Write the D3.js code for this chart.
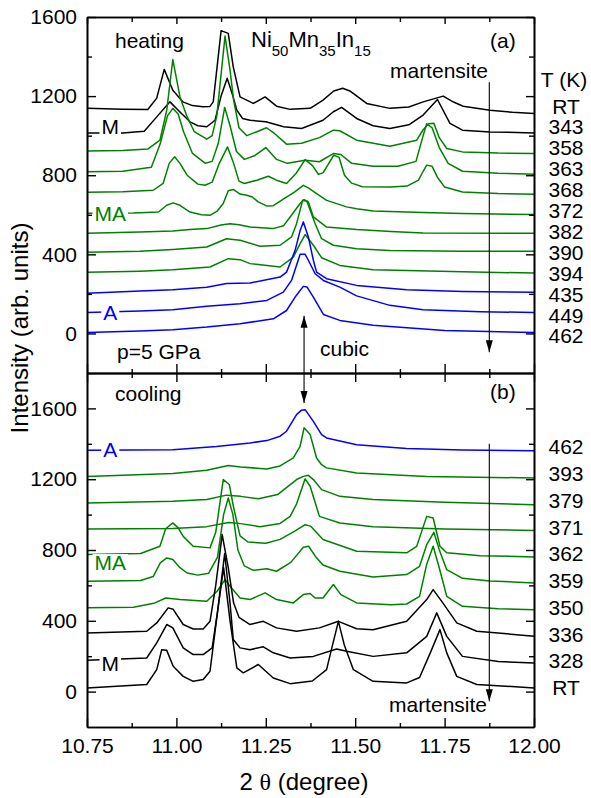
<!DOCTYPE html>
<html>
<head>
<meta charset="utf-8">
<script src="https://cdn.jsdelivr.net/npm/d3@7"></script>
<style>
body { margin: 0; background: #fff; }
svg text { font-family: "Liberation Sans", Arial, sans-serif; }
</style>
</head>
<body>
<div id="chart"></div>
<script>
// axis ticks
var xTickValues = [10.75, 11.00, 11.25, 11.50, 11.75, 12.00];
var xMinorValues = [10.875, 11.125, 11.375, 11.625, 11.875];
var yTickValues = [0, 400, 800, 1200, 1600];
var yMinorValues = [200, 600, 1000, 1400];

// temperatures (labels on the right) and phase of each pattern
var heatingTemps = ["RT", "343", "358", "363", "368", "372", "382", "390", "394", "435", "449", "462"];
var heatingPhases = ["M", "M", "MA", "MA", "MA", "MA", "MA", "MA", "MA", "A", "A", "A"];
var coolingTemps = ["462", "393", "379", "371", "362", "359", "350", "336", "328", "RT"];
var coolingPhases = ["A", "MA", "MA", "MA", "MA", "MA", "MA", "M", "M", "M"];

// (a) heating: [2theta, intensity]
var heatRT = [[10.75,1139],[10.85,1134],[10.92,1132],[10.945,1190],[10.966,1335],[10.99,1230],[11.018,1171],[11.045,1152],[11.074,1146],[11.094,1148],[11.103,1171],[11.125,1531],[11.145,1517],[11.159,1348],[11.178,1196],[11.215,1163],[11.248,1196],[11.28,1149],[11.318,1133],[11.374,1138],[11.41,1180],[11.44,1226],[11.465,1240],[11.485,1226],[11.532,1163],[11.597,1138],[11.65,1145],[11.69,1171],[11.746,1200],[11.775,1170],[11.802,1149],[11.877,1129],[11.94,1118],[12.0,1112]];
var heat343 = [[10.75,1014],[10.85,1014],[10.91,1022],[10.945,1095],[10.982,1171],[11.01,1120],[11.038,1070],[11.06,1050],[11.085,1045],[11.108,1078],[11.125,1200],[11.142,1290],[11.158,1200],[11.169,1129],[11.185,1087],[11.206,1078],[11.25,1070],[11.30,1045],[11.35,1036],[11.41,1078],[11.439,1121],[11.462,1143],[11.504,1087],[11.55,1050],[11.597,1036],[11.65,1055],[11.69,1104],[11.73,1183],[11.765,1062],[11.80,1028],[11.877,1019],[12.0,1014]];
var heat358 = [[10.75,923],[10.85,925],[10.92,932],[10.954,977],[10.973,1129],[10.99,1385],[11.01,1196],[11.029,1100],[11.05,1020],[11.085,982],[11.10,1000],[11.113,1100],[11.136,1504],[11.15,1331],[11.16,1180],[11.175,1040],[11.197,1000],[11.225,1020],[11.252,1040],[11.275,1010],[11.308,957],[11.35,962],[11.40,990],[11.439,1028],[11.457,1025],[11.504,977],[11.597,947],[11.672,977],[11.69,1030],[11.705,1060],[11.72,1063],[11.735,990],[11.756,935],[11.80,918],[11.9,912],[12.0,910]];
var heat363 = [[10.75,817],[10.85,820],[10.93,840],[10.955,960],[10.975,1100],[10.99,1138],[11.005,1110],[11.02,1020],[11.045,910],[11.08,861],[11.10,870],[11.117,960],[11.135,1143],[11.15,1050],[11.168,920],[11.19,880],[11.22,900],[11.25,940],[11.28,880],[11.31,860],[11.36,876],[11.40,868],[11.44,910],[11.46,905],[11.49,860],[11.55,845],[11.62,845],[11.67,870],[11.69,1000],[11.70,1060],[11.715,1040],[11.735,940],[11.76,860],[11.80,820],[11.9,810],[12.0,805]];
var heat368 = [[10.75,714],[10.85,716],[10.935,724],[10.963,759],[10.98,860],[10.995,893],[11.01,860],[11.03,800],[11.06,755],[11.08,749],[11.10,765],[11.12,860],[11.143,943],[11.16,860],[11.175,770],[11.19,758],[11.225,775],[11.257,795],[11.28,775],[11.308,758],[11.335,810],[11.36,879],[11.38,850],[11.397,805],[11.41,812],[11.44,901],[11.455,890],[11.47,800],[11.49,760],[11.52,742],[11.6,740],[11.645,745],[11.677,775],[11.69,820],[11.70,851],[11.715,845],[11.73,790],[11.75,740],[11.80,715],[11.9,707],[12.0,704]];
var heat372 = [[10.75,608],[10.88,609],[10.95,614],[10.973,648],[10.991,660],[11.01,648],[11.038,614],[11.07,600],[11.094,597],[11.115,620],[11.131,657],[11.145,722],[11.159,728],[11.178,705],[11.197,699],[11.212,690],[11.229,665],[11.252,645],[11.271,646],[11.30,680],[11.33,715],[11.355,749],[11.37,735],[11.392,707],[11.42,673],[11.476,640],[11.504,631],[11.55,619],[11.69,612],[11.8,607],[12.0,601]];
var heat382 = [[10.75,506],[10.898,513],[10.99,518],[11.038,525],[11.085,530],[11.125,548],[11.15,555],[11.175,550],[11.206,538],[11.27,530],[11.30,545],[11.318,589],[11.346,657],[11.357,677],[11.369,665],[11.383,589],[11.42,538],[11.504,525],[11.6,515],[11.69,508],[12.0,506]];
var heat390 = [[10.75,410],[10.898,415],[10.99,425],[11.085,437],[11.14,479],[11.178,471],[11.234,441],[11.29,446],[11.322,488],[11.336,555],[11.353,673],[11.365,668],[11.388,555],[11.406,479],[11.439,446],[11.504,428],[11.597,420],[11.8,416],[12.0,415]];
var heat394 = [[10.75,309],[10.898,315],[10.99,322],[11.094,336],[11.145,378],[11.178,373],[11.206,353],[11.29,336],[11.327,386],[11.346,454],[11.36,500],[11.383,446],[11.406,383],[11.457,344],[11.55,322],[11.8,312],[12.0,305]];
var heat435 = [[10.75,203],[10.898,214],[10.99,221],[11.085,234],[11.14,252],[11.206,255],[11.29,285],[11.308,310],[11.332,420],[11.346,520],[11.355,564],[11.369,488],[11.383,370],[11.392,310],[11.42,277],[11.504,243],[11.644,221],[11.8,212],[12.0,208]];
var heat449 = [[10.75,106],[10.898,113],[10.99,120],[11.085,137],[11.178,150],[11.253,167],[11.299,209],[11.322,268],[11.346,400],[11.36,400],[11.369,370],[11.388,302],[11.411,268],[11.457,234],[11.504,190],[11.597,142],[11.69,120],[11.85,110],[12.0,106]];
var heat462 = [[10.75,5],[10.898,12],[10.99,19],[11.085,32],[11.178,49],[11.271,74],[11.308,116],[11.332,184],[11.355,238],[11.365,235],[11.383,184],[11.411,96],[11.457,66],[11.55,41],[11.75,15],[12.0,5]];

// (b) cooling: [2theta, intensity]
var cool462 = [[10.75,1363],[10.99,1367],[11.112,1385],[11.206,1405],[11.253,1418],[11.29,1443],[11.308,1471],[11.336,1565],[11.35,1590],[11.36,1593],[11.383,1527],[11.406,1452],[11.42,1433],[11.504,1395],[11.644,1373],[11.8,1365],[12.0,1361]];
var cool393 = [[10.75,1215],[10.99,1232],[11.085,1250],[11.145,1277],[11.18,1269],[11.253,1258],[11.29,1275],[11.327,1320],[11.346,1386],[11.357,1490],[11.374,1452],[11.392,1320],[11.406,1282],[11.42,1264],[11.504,1235],[11.7,1215],[12.0,1207]];
var cool379 = [[10.75,1066],[10.99,1075],[11.085,1085],[11.14,1110],[11.18,1103],[11.23,1089],[11.283,1113],[11.336,1198],[11.355,1216],[11.369,1222],[11.383,1198],[11.406,1141],[11.457,1103],[11.55,1085],[11.75,1070],[12.0,1056]];
var cool371 = [[10.75,919],[10.99,921],[11.085,932],[11.145,955],[11.18,949],[11.234,932],[11.29,950],[11.318,990],[11.336,1060],[11.36,1202],[11.374,1160],[11.40,990],[11.457,953],[11.55,932],[11.75,919],[12.0,910]];
var cool362 = [[10.75,774],[10.9,780],[10.954,821],[10.97,920],[10.99,953],[11.005,925],[11.019,877],[11.047,821],[11.094,812],[11.11,900],[11.131,1198],[11.148,1170],[11.16,1040],[11.178,880],[11.2,845],[11.25,838],[11.29,860],[11.33,905],[11.36,943],[11.375,935],[11.41,859],[11.504,793],[11.644,784],[11.672,821],[11.70,990],[11.718,981],[11.737,821],[11.756,784],[11.85,768],[12.0,761]];
var cool359 = [[10.75,623],[10.9,628],[10.935,650],[10.955,727],[10.973,755],[10.99,746],[11.01,700],[11.03,670],[11.06,658],[11.09,668],[11.115,760],[11.132,1000],[11.145,1094],[11.158,1000],[11.172,800],[11.19,710],[11.215,685],[11.253,694],[11.28,680],[11.32,730],[11.355,815],[11.37,821],[11.39,760],[11.41,715],[11.457,680],[11.55,648],[11.644,661],[11.68,708],[11.70,830],[11.72,900],[11.735,802],[11.756,689],[11.8,640],[11.877,625],[12.0,614]];
var cool350 = [[10.75,474],[10.88,476],[10.94,501],[10.97,529],[11.01,520],[11.085,510],[11.115,570],[11.136,633],[11.15,595],[11.178,529],[11.206,520],[11.248,558],[11.28,520],[11.327,501],[11.355,548],[11.374,554],[11.388,529],[11.41,529],[11.439,605],[11.46,548],[11.504,501],[11.6,490],[11.644,495],[11.68,538],[11.70,720],[11.718,821],[11.735,700],[11.756,538],[11.80,482],[11.9,468],[12.0,463]];
var cool336 = [[10.75,331],[10.917,341],[10.945,388],[10.977,473],[10.991,465],[11.019,379],[11.047,354],[11.075,354],[11.094,397],[11.11,600],[11.128,887],[11.145,700],[11.16,500],[11.175,420],[11.206,379],[11.243,397],[11.28,360],[11.336,341],[11.40,360],[11.453,397],[11.504,355],[11.55,350],[11.644,397],[11.70,520],[11.718,576],[11.745,501],[11.784,388],[11.84,341],[12.0,313]];
var cool328 = [[10.75,177],[10.917,190],[10.945,275],[10.973,379],[10.99,360],[11.019,247],[11.047,209],[11.075,209],[11.1,247],[11.115,450],[11.135,780],[11.15,500],[11.159,294],[11.178,247],[11.206,237],[11.243,253],[11.271,219],[11.318,190],[11.383,199],[11.448,241],[11.476,228],[11.55,199],[11.644,219],[11.70,312],[11.728,445],[11.756,312],[11.80,199],[11.9,170],[12.0,162]];
var coolRT = [[10.75,21],[10.917,40],[10.945,124],[10.959,237],[10.973,233],[10.991,143],[11.019,86],[11.047,58],[11.075,68],[11.094,115],[11.115,450],[11.132,700],[11.15,400],[11.169,134],[11.187,106],[11.229,153],[11.271,77],[11.318,45],[11.38,60],[11.42,124],[11.435,250],[11.453,397],[11.47,260],[11.495,124],[11.55,58],[11.644,49],[11.68,80],[11.71,219],[11.737,350],[11.756,219],[11.784,86],[11.84,40],[12.0,21]];

var heatingCurves = [heatRT, heat343, heat358, heat363, heat368, heat372, heat382, heat390, heat394, heat435, heat449, heat462];
var coolingCurves = [cool462, cool393, cool379, cool371, cool362, cool359, cool350, cool336, cool328, coolRT];

// annotation positions (data units)
var cubicX = 11.357;
var martX = 11.875;

var phaseColor = {M: "#000000", MA: "#008000", A: "#0000ff"};

var width = 591, height = 798;
var svg = d3.select("#chart").append("svg")
    .attr("width", width)
    .attr("height", height);

var x = d3.scaleLinear().domain([10.75, 12.0]).range([87, 534]);
var yA = d3.scaleLinear().domain([-200, 1600]).range([373, 17]);
var yB = d3.scaleLinear().domain([-200, 1800]).range([727, 373]);

function styleAxis(g) {
    g.attr("font-size", 21).attr("font-family", "Liberation Sans, Arial, sans-serif");
    g.select(".domain").attr("stroke-width", 1.6);
    g.selectAll(".tick line").attr("stroke-width", 1.4);
    g.selectAll(".tick text").attr("fill", "#000");
}

function drawFrame(y, top, bottom, topMajor, bottomLabels) {
    // left
    svg.append("g").attr("transform", "translate(87,0)")
        .call(d3.axisLeft(y).tickValues(yTickValues).tickSize(-9).tickSizeOuter(0).tickPadding(10).tickFormat(d3.format("d")))
        .call(styleAxis);
    svg.append("g").attr("transform", "translate(87,0)")
        .call(d3.axisLeft(y).tickValues(yMinorValues).tickSize(-5).tickSizeOuter(0).tickFormat(""))
        .call(styleAxis);
    // right
    svg.append("g").attr("transform", "translate(534,0)")
        .call(d3.axisRight(y).tickValues(yTickValues).tickSize(-8).tickSizeOuter(0).tickFormat(""))
        .call(styleAxis);
    svg.append("g").attr("transform", "translate(534,0)")
        .call(d3.axisRight(y).tickValues(yMinorValues).tickSize(-5).tickSizeOuter(0).tickFormat(""))
        .call(styleAxis);
    // top
    svg.append("g").attr("transform", "translate(0," + top + ")")
        .call(d3.axisTop(x).tickValues(xTickValues).tickSize(-topMajor).tickSizeOuter(0).tickFormat(""))
        .call(styleAxis);
    svg.append("g").attr("transform", "translate(0," + top + ")")
        .call(d3.axisTop(x).tickValues(xMinorValues).tickSize(-5).tickSizeOuter(0).tickFormat(""))
        .call(styleAxis);
    // bottom
    var bottomAxis = d3.axisBottom(x).tickValues(xTickValues).tickSize(-9).tickSizeOuter(0).tickPadding(11);
    if (bottomLabels) bottomAxis.tickFormat(d3.format(".2f"));
    else bottomAxis.tickFormat("");
    svg.append("g").attr("transform", "translate(0," + bottom + ")")
        .call(bottomAxis)
        .call(styleAxis);
    svg.append("g").attr("transform", "translate(0," + bottom + ")")
        .call(d3.axisBottom(x).tickValues(xMinorValues).tickSize(-4).tickSizeOuter(0).tickFormat(""))
        .call(styleAxis);
}

function drawCurves(curves, phases, y) {
    var line = d3.line()
        .x(function(d) { return x(d[0]); })
        .y(function(d) { return y(d[1]); });
    svg.append("g").selectAll("path")
        .data(curves)
        .enter().append("path")
        .attr("d", line)
        .attr("fill", "none")
        .attr("stroke", function(d, i) { return phaseColor[phases[i]]; })
        .attr("stroke-width", 1.5)
        .attr("stroke-linejoin", "round");
}

function phaseLabel(text, curve, y, dy, color) {
    var g = svg.append("g");
    var t = g.append("text")
        .attr("x", x(10.815))
        .attr("y", y(curve[0][1]) + dy)
        .attr("text-anchor", "middle")
        .attr("dominant-baseline", "central")
        .attr("font-size", 21)
        .attr("fill", color)
        .text(text);
    var b = t.node().getBBox();
    g.insert("rect", "text")
        .attr("x", b.x - 2).attr("y", b.y + 3)
        .attr("width", b.width + 4).attr("height", b.height - 6)
        .attr("fill", "#fff");
}

function tempLabels(temps, y, first, step) {
    svg.append("g").selectAll("text")
        .data(temps)
        .enter().append("text")
        .attr("x", 566)
        .attr("y", function(d, i) { return y(first - i * step); })
        .attr("text-anchor", "middle")
        .attr("dominant-baseline", "central")
        .attr("font-size", 21)
        .text(function(d) { return d; });
}

function vArrow(px, y1, y2, headTop, headBottom) {
    var g = svg.append("g");
    g.append("line")
        .attr("x1", px).attr("x2", px)
        .attr("y1", y1).attr("y2", y2)
        .attr("stroke", "#000").attr("stroke-width", 1.1);
    if (headTop) {
        g.append("path")
            .attr("d", "M" + px + "," + y1 + "L" + (px - 3.5) + "," + (y1 + 12) + "L" + (px + 3.5) + "," + (y1 + 12) + "Z")
            .attr("fill", "#000");
    }
    if (headBottom) {
        g.append("path")
            .attr("d", "M" + px + "," + y2 + "L" + (px - 3.5) + "," + (y2 - 12) + "L" + (px + 3.5) + "," + (y2 - 12) + "Z")
            .attr("fill", "#000");
    }
}

// curves
drawCurves(heatingCurves, heatingPhases, yA);
drawCurves(coolingCurves, coolingPhases, yB);

// phase labels on the curves
phaseLabel("M", heat343, yA, -6, phaseColor.M);
phaseLabel("MA", heat372, yA, 0, phaseColor.MA);
phaseLabel("A", heat449, yA, 0, phaseColor.A);
phaseLabel("A", cool462, yB, -1, phaseColor.A);
phaseLabel("MA", cool362, yB, 8, phaseColor.MA);
phaseLabel("M", cool328, yB, 3, phaseColor.M);

// frames and axes
drawFrame(yA, 17, 373, 7, false);
drawFrame(yB, 373, 727, 9, true);

// arrows
vArrow(x(cubicX), yA(90), yB(1630), true, true);
vArrow(x(martX), yA(1270), yA(-95), false, true);
vArrow(x(martX), yB(1400), yB(-55), false, true);

// temperature labels
svg.append("text").attr("x", 564).attr("y", 87).attr("text-anchor", "middle")
    .attr("font-size", 21).text("T (K)");
tempLabels(heatingTemps, yA, 1150, 105.7);
tempLabels(coolingTemps, yB, 1382, 151);

// texts
svg.append("text").attr("x", 115).attr("y", 48).attr("font-size", 21).text("heating");
svg.append("text").attr("x", 115).attr("y", 401).attr("font-size", 21).text("cooling");
svg.append("text").attr("x", 490).attr("y", 48).attr("font-size", 21).text("(a)");
svg.append("text").attr("x", 490).attr("y", 399).attr("font-size", 21).text("(b)");
svg.append("text").attr("x", 117).attr("y", 359).attr("font-size", 21).text("p=5 GPa");
svg.append("text").attr("x", 320).attr("y", 356).attr("font-size", 21).text("cubic");
svg.append("text").attr("x", 488).attr("y", 78).attr("text-anchor", "end").attr("font-size", 21).text("martensite");
svg.append("text").attr("x", 487).attr("y", 712).attr("text-anchor", "end").attr("font-size", 21).text("martensite");

var title = svg.append("text").attr("x", 251).attr("y", 47).attr("font-size", 22);
title.append("tspan").text("Ni");
title.append("tspan").attr("dy", 9).attr("font-size", 15).text("50");
title.append("tspan").attr("dy", -9).text("Mn");
title.append("tspan").attr("dy", 9).attr("font-size", 15).text("35");
title.append("tspan").attr("dy", -9).text("In");
title.append("tspan").attr("dy", 9).attr("font-size", 15).text("15");

// axis titles
var xl = svg.append("text").attr("x", 304).attr("y", 790).attr("text-anchor", "middle").attr("font-size", 24);
xl.append("tspan").text("2 ");
xl.append("tspan").attr("font-family", "Liberation Serif, DejaVu Serif, serif").text("θ");
xl.append("tspan").text(" (degree)");

svg.append("text")
    .attr("transform", "translate(28,328) rotate(-90)")
    .attr("text-anchor", "middle")
    .attr("font-size", 24)
    .text("Intensity (arb. units)");
</script>
</body>
</html>
